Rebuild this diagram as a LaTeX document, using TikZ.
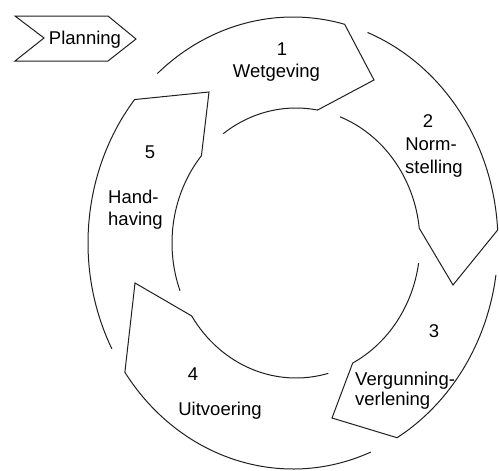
\documentclass[tikz,border=0pt]{standalone}
\usepackage{fontspec}
\setmainfont{Liberation Sans}
\usetikzlibrary{calc}

% one ring segment of the cycle: outer arc, arrow tip, inner arc back; tail left open
\newcommand\ringseg[5]{%
  \draw[segline] ($(Co)+(#1:205pt and 226pt)$)
      arc[start angle=#1, end angle=#2, x radius=205pt, y radius=226pt]
      -- (#3)
      -- ($(Ci)+(#4:124pt and 135pt)$)
      arc[start angle=#4, end angle=#5, x radius=124pt, y radius=135pt];}

\begin{document}
\begin{tikzpicture}[x=1pt, y=-1pt,
    segline/.style={draw=black!88, line width=1pt, line join=miter},
    lbl/.style={inner sep=0pt, font=\fontsize{18.5}{22}\selectfont, text=black}]
  \useasboundingbox (0,0) rectangle (499,471);

  % centres of the outer and inner ellipses
  \coordinate (Co) at (293,243);
  \coordinate (Ci) at (296,243);

  % arrow tips
  \coordinate (tip1) at (374,80);
  \coordinate (tip2) at (453,285);
  \coordinate (tip3) at (332,418);
  \coordinate (tip4) at (135,283);
  \coordinate (tip5) at (209,92);

  \ringseg{131.4}{75.4}{tip1}{80}{125.9}
  \ringseg{68.7}{3.3}{tip2}{6.3}{69.2}
  \ringseg{-8.1}{-59.5}{tip3}{-62.8}{-8.6}
  \ringseg{-67.7}{-145.1}{tip4}{-147.3}{-74.9}
  \ringseg{207.9}{140.6}{tip5}{139.7}{200.7}

  % Planning banner
  \coordinate (pa) at (15,16);
  \coordinate (pb) at (108,16);
  \coordinate (pc) at (136,39);
  \coordinate (pd) at (108,61);
  \coordinate (pe) at (15,61);
  \coordinate (pf) at (44,38);
  \draw[segline] (pa) -- (pb) -- (pc) -- (pd) -- (pe) -- (pf) -- cycle;
  \node[lbl, anchor=base] (tp) at (85,45) {Planning};

  % labels
  \node[lbl, anchor=base] (n1) at (282,55) {1};
  \node[lbl, anchor=base] (t1) at (276.5,77) {Wetgeving};
  \node[lbl, anchor=base] (n2) at (428,127) {2};
  \node[lbl, anchor=base] (t2a) at (431,150) {Norm-};
  \node[lbl, anchor=base] (t2b) at (434,173) {stelling};
  \node[lbl, anchor=base] (n3) at (434,337) {3};
  \node[lbl, anchor=base west] (t3a) at (355,385) {Vergunning-};
  \node[lbl, anchor=base west] (t3b) at (355,405) {verlening};
  \node[lbl, anchor=base] (n4) at (193,380) {4};
  \node[lbl, anchor=base] (t4) at (220,415) {Uitvoering};
  \node[lbl, anchor=base] (n5) at (150,158) {5};
  \node[lbl, anchor=base west] (t5a) at (108,203) {Hand-};
  \node[lbl, anchor=base west] (t5b) at (108,225) {having};
\end{tikzpicture}
\end{document}
